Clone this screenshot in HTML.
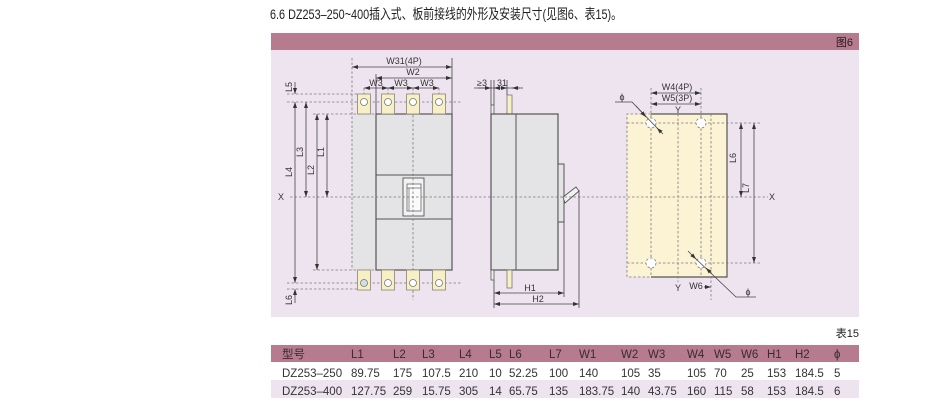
<!DOCTYPE html>
<html><head><meta charset="utf-8"><style>
html,body{margin:0;padding:0;background:#fff;}
svg{display:block;}
text{font-family:"Liberation Sans","Noto Sans CJK SC",sans-serif;}
</style></head><body>
<svg width="950" height="411" viewBox="0 0 950 411" xmlns="http://www.w3.org/2000/svg">
<defs>
<marker id="a" viewBox="0 0 6 4" refX="6" refY="2" markerWidth="6" markerHeight="4" orient="auto-start-reverse" markerUnits="userSpaceOnUse"><path d="M0,0L6,2L0,4z" fill="#333"/></marker>
</defs>

<!-- title -->
<text x="270" y="19" font-size="14" fill="#222" textLength="352" lengthAdjust="spacingAndGlyphs">6.6 DZ253–250~400插入式、板前接线的外形及安装尺寸(见图6、表15)。</text>

<!-- figure header -->
<rect x="271" y="33" width="588" height="17" fill="#b67b8e"/>
<text x="853" y="46" font-size="11" text-anchor="end" fill="#2a1a20">图6</text>
<rect x="271" y="50" width="588" height="267" fill="#eee4f0"/>

<!-- ============ LEFT DRAWING ============ -->
<rect x="352" y="114" width="24" height="156" fill="#e4e4e6"/>
<rect x="376" y="114" width="76" height="156" fill="#e4e4e6" stroke="#555" stroke-width="1.2"/>
<path d="M376 175H452M376 219H452" stroke="#555" stroke-width="1"/>
<rect x="403" y="178" width="21" height="38" fill="#f2f2f2" stroke="#555" stroke-width="0.9"/>
<rect x="407" y="184" width="14" height="27" fill="#fafafa" stroke="#666" stroke-width="0.8"/>
<path d="M407 188H421M409 188V211" stroke="#666" stroke-width="0.7"/>

<!-- ============ MIDDLE DRAWING bodies ============ -->
<rect x="491" y="105" width="3" height="9" fill="#f0f0f0" stroke="#555" stroke-width="0.8"/>
<rect x="507" y="95" width="5" height="19" fill="#f7efc6" stroke="#777" stroke-width="0.8"/>
<rect x="491" y="114" width="67" height="156" fill="#e4e4e6" stroke="#555" stroke-width="1.2"/>
<path d="M516 114V270" stroke="#555" stroke-width="1"/>
<rect x="558" y="164" width="6" height="58" fill="#e4e4e6" stroke="#555" stroke-width="1"/>
<path d="M563 197L576 187L579 191L565 203Z" fill="#f2f2f2" stroke="#555" stroke-width="0.9"/>
<rect x="491" y="270" width="3" height="10" fill="#f0f0f0" stroke="#555" stroke-width="0.8"/>
<rect x="507" y="270" width="5" height="18" fill="#f7efc6" stroke="#777" stroke-width="0.8"/>

<!-- right panel -->
<rect x="627" y="114" width="100" height="163" fill="#fbf3d4"/>
<path d="M651 114H727V277H651" fill="none" stroke="#555" stroke-width="1.2"/>

<g fill="none" stroke="#7a7a7a" stroke-width="0.8" stroke-dasharray="2.5 2">
<path d="M352 58V270"/>
<path d="M287 94H358"/>
<path d="M287 102H462"/>
<path d="M313 114H376"/>
<path d="M290 197H768"/>
<path d="M413 88V300"/>
<path d="M313 270H376"/>
<path d="M287 283H462"/>
<path d="M287 289H358"/>
<path d="M364 88V114M388 88V114M439 88V114"/>
</g>

<!-- terminals -->
<g stroke="#8a8470" stroke-width="0.8">
<rect x="357.5" y="94" width="13" height="20" fill="#f7efc6"/>
<rect x="381.5" y="94" width="13" height="20" fill="#f7efc6"/>
<rect x="406.5" y="94" width="13" height="20" fill="#f7efc6"/>
<rect x="432.5" y="94" width="13" height="20" fill="#f7efc6"/>
<rect x="357.5" y="270" width="13" height="20" fill="#f7efc6"/>
<rect x="381.5" y="270" width="13" height="20" fill="#f7efc6"/>
<rect x="406.5" y="270" width="13" height="20" fill="#f7efc6"/>
<rect x="432.5" y="270" width="13" height="20" fill="#f7efc6"/>
</g>
<g stroke="#777" stroke-width="0.8" fill="#fff">
<circle cx="364" cy="102" r="3.5"/><circle cx="388" cy="102" r="3.5"/><circle cx="413" cy="102" r="3.5"/><circle cx="439" cy="102" r="3.5"/>
<circle cx="364" cy="283" r="3.5" fill="#cfe0e8"/><circle cx="388" cy="283" r="3.5"/><circle cx="413" cy="283" r="3.5"/><circle cx="439" cy="283" r="3.5"/>
</g>

<!-- left dims -->
<g stroke="#444" stroke-width="0.8" fill="none">
<path d="M452 58V114M376 74V114"/>
<line x1="352" y1="67" x2="452" y2="67" marker-start="url(#a)" marker-end="url(#a)"/>
<line x1="376" y1="78" x2="452" y2="78" marker-start="url(#a)" marker-end="url(#a)"/>
<line x1="364" y1="88" x2="388" y2="88" marker-start="url(#a)" marker-end="url(#a)"/>
<line x1="388" y1="88" x2="413" y2="88" marker-start="url(#a)" marker-end="url(#a)"/>
<line x1="413" y1="88" x2="439" y2="88" marker-start="url(#a)" marker-end="url(#a)"/>
<line x1="295" y1="82" x2="295" y2="94" marker-end="url(#a)"/>
<line x1="295" y1="102" x2="295" y2="283" marker-start="url(#a)" marker-end="url(#a)"/>
<line x1="306" y1="102" x2="306" y2="197" marker-start="url(#a)" marker-end="url(#a)"/>
<line x1="317" y1="114" x2="317" y2="270" marker-start="url(#a)" marker-end="url(#a)"/>
<line x1="327" y1="114" x2="327" y2="197" marker-start="url(#a)" marker-end="url(#a)"/>
<line x1="295" y1="303" x2="295" y2="289" marker-end="url(#a)"/>
</g>
<g font-size="9" fill="#333" text-anchor="middle">
<text x="404" y="64">W31(4P)</text>
<text x="413" y="75">W2</text>
<text x="376" y="86">W3</text>
<text x="401" y="86">W3</text>
<text x="427" y="86">W3</text>
<text x="281" y="200">X</text>
<text transform="translate(292,87) rotate(-90)">L5</text>
<text transform="translate(292,172) rotate(-90)">L4</text>
<text transform="translate(303,152) rotate(-90)">L3</text>
<text transform="translate(314,170) rotate(-90)">L2</text>
<text transform="translate(324,152) rotate(-90)">L1</text>
<text transform="translate(292,300) rotate(-90)">L6</text>
</g>

<!-- middle dims -->
<g stroke="#444" stroke-width="0.8" fill="none">
<path d="M491 80V105M494 80V105M507 80V95M474 88H523"/>
<line x1="478" y1="88" x2="491" y2="88" marker-end="url(#a)"/>
<line x1="500" y1="88" x2="494" y2="88" marker-end="url(#a)"/>
<line x1="501" y1="88" x2="507" y2="88" marker-end="url(#a)"/>
<line x1="520" y1="88" x2="512" y2="88" marker-end="url(#a)"/>
<path d="M494 280V308M564 222V297M579 190V308"/>
<line x1="494" y1="293" x2="564" y2="293" marker-start="url(#a)" marker-end="url(#a)"/>
<line x1="494" y1="304" x2="579" y2="304" marker-start="url(#a)" marker-end="url(#a)"/>
</g>
<g font-size="9" fill="#333" text-anchor="middle">
<text x="482" y="86">≥3</text>
<text x="502" y="86">31</text>
<text x="530" y="291">H1</text>
<text x="538" y="302">H2</text>
</g>

<!-- ============ RIGHT DRAWING ============ -->
<g fill="none" stroke="#7a7a7a" stroke-width="0.8" stroke-dasharray="2.5 2">
<path d="M651 114H627V277H651"/>
<path d="M651 88V277M701 88V277M678 114V282M711 114V300"/>
<path d="M627 123H762M627 263H762"/>
<circle cx="651" cy="123" r="5" fill="#fff"/>
<circle cx="701" cy="123" r="5" fill="#fff"/>
<circle cx="651" cy="263" r="5" fill="#fff"/>
<circle cx="701" cy="263" r="5" fill="#fff"/>
</g>
<g stroke="#444" stroke-width="0.8" fill="none">
<line x1="651" y1="93" x2="701" y2="93" marker-start="url(#a)" marker-end="url(#a)"/>
<line x1="651" y1="104" x2="701" y2="104" marker-start="url(#a)" marker-end="url(#a)"/>
<line x1="741" y1="123" x2="741" y2="197" marker-start="url(#a)" marker-end="url(#a)"/>
<line x1="754" y1="123" x2="754" y2="263" marker-start="url(#a)" marker-end="url(#a)"/>
<path d="M615 102H632L660 131"/>
<line x1="636" y1="106" x2="646" y2="117" marker-end="url(#a)"/>
<line x1="663" y1="134" x2="657" y2="128" marker-end="url(#a)"/>
<path d="M694 257L736 297H756"/>
<line x1="688" y1="251" x2="696" y2="259" marker-end="url(#a)"/>
<line x1="712" y1="274" x2="706" y2="268" marker-end="url(#a)"/>
<line x1="704" y1="287" x2="711" y2="287" marker-end="url(#a)"/>
</g>
<g font-size="9" fill="#333" text-anchor="middle">
<text x="677" y="90">W4(4P)</text>
<text x="677" y="101">W5(3P)</text>
<text x="678" y="113">Y</text>
<text x="622" y="100">ϕ</text>
<text x="748" y="295">ϕ</text>
<text x="678" y="291">Y</text>
<text x="696" y="289">W6</text>
<text x="772" y="200">X</text>
<text transform="translate(736,158) rotate(-90)">L6</text>
<text transform="translate(749,188) rotate(-90)">L7</text>
</g>

<!-- ============ TABLE ============ -->
<text x="859" y="337" font-size="11" text-anchor="end" fill="#222">表15</text>
<rect x="271" y="345" width="588" height="17" fill="#b67b8e"/>
<rect x="271" y="380" width="588" height="18" fill="#eee4f0"/>
<g font-size="11.5" fill="#3a2a32">
<text x="282" y="358">型号</text>
<text x="351" y="358">L1</text>
<text x="393" y="358">L2</text>
<text x="422" y="358">L3</text>
<text x="459" y="358">L4</text>
<text x="489" y="358">L5</text>
<text x="509" y="358">L6</text>
<text x="549" y="358">L7</text>
<text x="579" y="358">W1</text>
<text x="621" y="358">W2</text>
<text x="648" y="358">W3</text>
<text x="687" y="358">W4</text>
<text x="714" y="358">W5</text>
<text x="741" y="358">W6</text>
<text x="767" y="358">H1</text>
<text x="795" y="358">H2</text>
<text x="834" y="358">ϕ</text>
</g>
<g font-size="11.5" fill="#333">
<text x="282" y="377">DZ253–250</text>
<text x="351" y="377">89.75</text>
<text x="393" y="377">175</text>
<text x="422" y="377">107.5</text>
<text x="459" y="377">210</text>
<text x="489" y="377">10</text>
<text x="509" y="377">52.25</text>
<text x="549" y="377">100</text>
<text x="579" y="377">140</text>
<text x="621" y="377">105</text>
<text x="648" y="377">35</text>
<text x="687" y="377">105</text>
<text x="714" y="377">70</text>
<text x="741" y="377">25</text>
<text x="767" y="377">153</text>
<text x="795" y="377">184.5</text>
<text x="834" y="377">5</text>

<text x="282" y="395">DZ253–400</text>
<text x="351" y="395">127.75</text>
<text x="393" y="395">259</text>
<text x="422" y="395">15.75</text>
<text x="459" y="395">305</text>
<text x="489" y="395">14</text>
<text x="509" y="395">65.75</text>
<text x="549" y="395">135</text>
<text x="579" y="395">183.75</text>
<text x="621" y="395">140</text>
<text x="648" y="395">43.75</text>
<text x="687" y="395">160</text>
<text x="714" y="395">115</text>
<text x="741" y="395">58</text>
<text x="767" y="395">153</text>
<text x="795" y="395">184.5</text>
<text x="834" y="395">6</text>
</g>
</svg>
</body></html>
